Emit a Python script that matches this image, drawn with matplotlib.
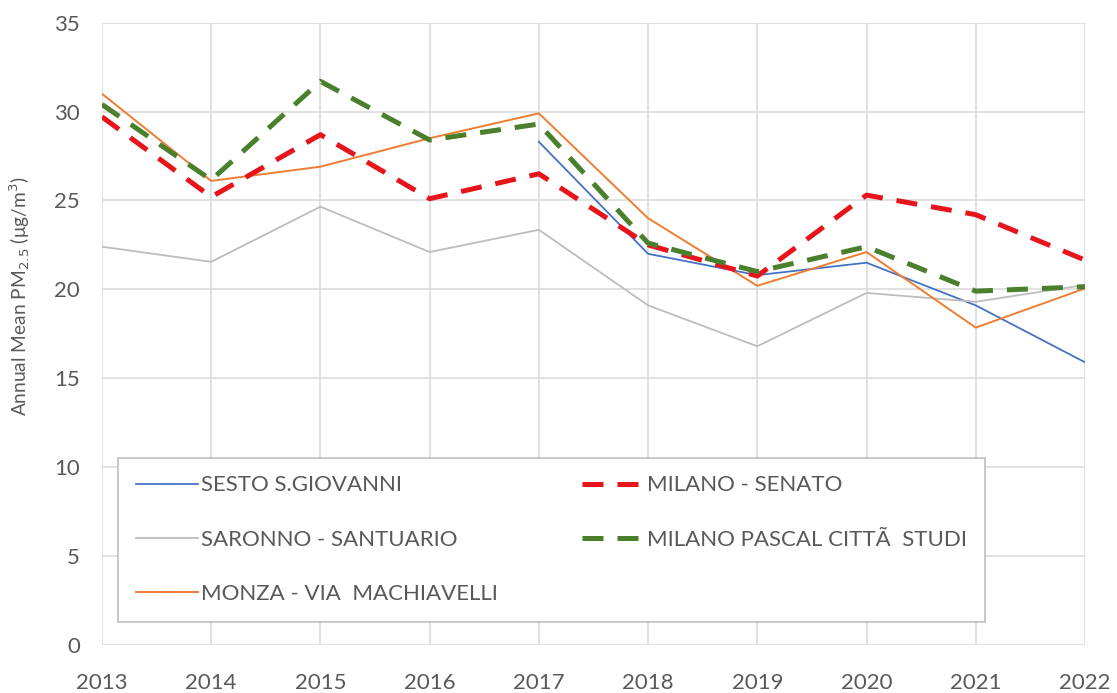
import matplotlib
matplotlib.use("Agg")
import matplotlib.pyplot as plt

years = [2013, 2014, 2015, 2016, 2017, 2018, 2019, 2020, 2021, 2022]
sesto_years = [2017, 2018, 2019, 2020, 2021, 2022]
sesto = [28.3, 22.0, 20.8, 21.5, 19.1, 15.9]
saronno = [22.4, 21.55, 24.65, 22.1, 23.35, 19.1, 16.8, 19.8, 19.3, 20.25]
monza = [31.0, 26.1, 26.9, 28.5, 29.9, 24.0, 20.2, 22.1, 17.85, 20.05]
senato = [29.7, 25.2, 28.7, 25.1, 26.5, 22.5, 20.75, 25.3, 24.2, 21.65]
pascal = [30.4, 26.15, 31.7, 28.4, 29.3, 22.6, 21.0, 22.4, 19.9, 20.15]
labels = ["SESTO S.GIOVANNI", "SARONNO - SANTUARIO", "MONZA - VIA  MACHIAVELLI",
          "MILANO - SENATO", "MILANO PASCAL CITTÃ  STUDI"]

plt.rcParams['font.family'] = ['Lato', 'DejaVu Sans']
txt = '#595959'
fig = plt.figure(figsize=(11.17, 6.93), dpi=100)
ax = fig.add_axes([0.0913, 0.0693, 0.88, 0.898])

l1, = ax.plot(sesto_years, sesto, color='#4472C4', lw=1.3, label=labels[0])
l2, = ax.plot(years, saronno, color='#BDBDBD', lw=1.3, label=labels[1])
l3, = ax.plot(years, monza, color='#ED7D31', lw=1.4, label=labels[2])
l4, = ax.plot(years, senato, color='#E8141B', lw=3.6, dashes=(4.2, 2.8), label=labels[3])
l5, = ax.plot(years, pascal, color='#4A7F2C', lw=3.6, dashes=(4.2, 2.8), label=labels[4])

ax.set_xlim(2013, 2022)
ax.set_ylim(0, 35)
ax.set_xticks(years)
ax.set_yticks(range(0, 36, 5))
ax.grid(True, color='#D9D9D9', lw=1.1)
ax.set_axisbelow(True)
for s in ax.spines.values():
    s.set_visible(False)
ax.tick_params(length=0, labelsize=16, colors=txt)
ax.tick_params(axis='x', pad=20)
ax.tick_params(axis='y', pad=16)
ax.set_ylabel('Annual Mean PM$_{2.5}$ (μg/m$^3$)', fontsize=13.8, color=txt)
ax.yaxis.set_label_coords(-0.071, 0.56)

leg = ax.legend(handles=[l1, l2, l3, l4, l5], ncol=2, loc='lower left',
                bbox_to_anchor=(0.0163, 0.037, 0.882, 0.27), mode='expand',
                fontsize=16, frameon=True, fancybox=False, edgecolor='#BFBFBF',
                framealpha=1, handlelength=2.8, handletextpad=0.15,
                labelspacing=1.55, borderpad=0.8, borderaxespad=0)
leg.get_frame().set_linewidth(1.2)
for t in leg.get_texts():
    t.set_color(txt)

fig.savefig('out.png', dpi=100)
